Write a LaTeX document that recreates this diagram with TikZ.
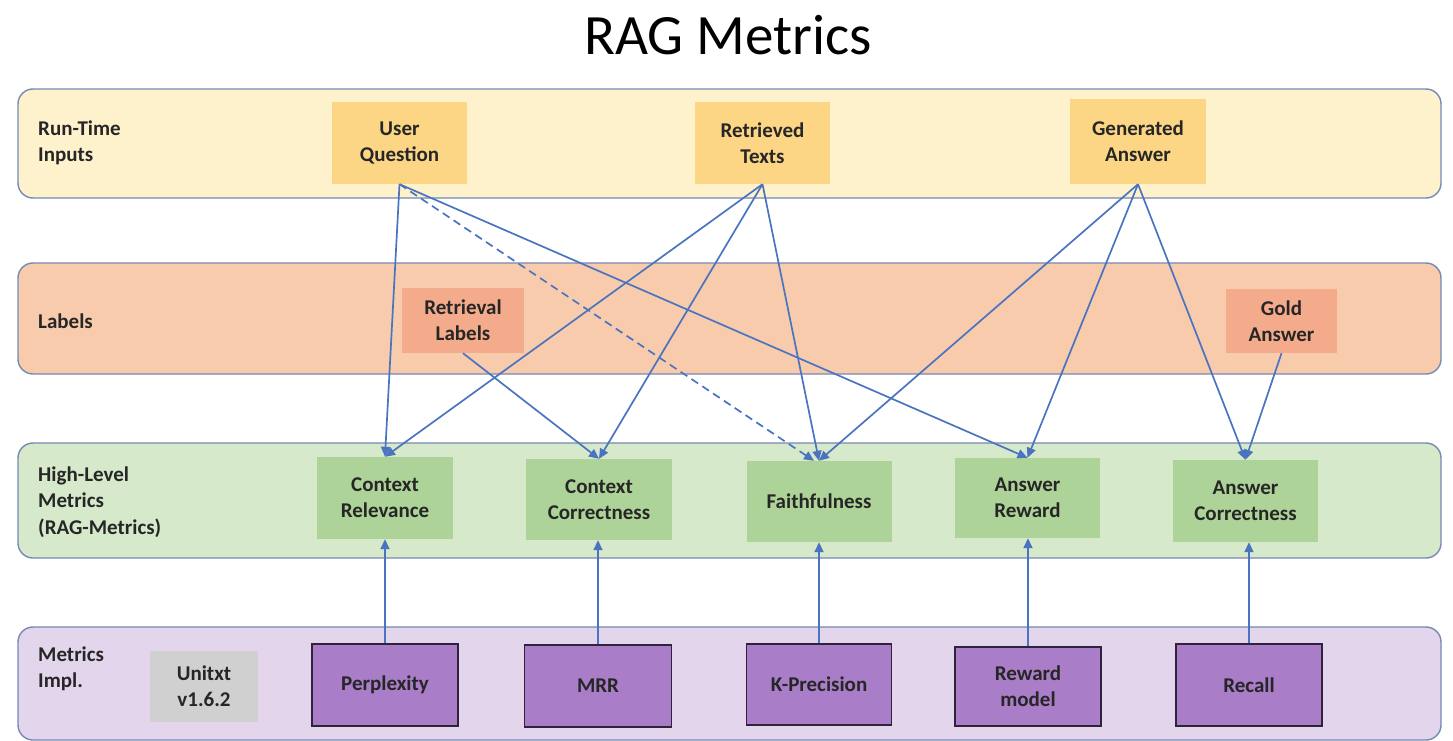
\documentclass[tikz,border=0pt]{standalone}
\usepackage{fontspec}
\setmainfont{Carlito}
\usetikzlibrary{arrows.meta}

\definecolor{bandline}{HTML}{7489B4}
\definecolor{inbg}{HTML}{FEF2CD}
\definecolor{inbox}{HTML}{FCD585}
\definecolor{labbg}{HTML}{F8CBAD}
\definecolor{labbox}{HTML}{F4AB8B}
\definecolor{hlbg}{HTML}{D6E9CA}
\definecolor{hlbox}{HTML}{ADD398}
\definecolor{impbg}{HTML}{E3D5EC}
\definecolor{impbox}{HTML}{A97DC8}
\definecolor{impline}{HTML}{2E2338}
\definecolor{verbox}{HTML}{D0D0D0}
\definecolor{link}{HTML}{4A74C0}
\definecolor{ink}{HTML}{262626}

\tikzset{
  band/.style={draw=bandline, line width=1.4pt, rounded corners=15pt, inner sep=0pt},
  bandtext/.style={anchor=west, align=left, text=ink, inner sep=0pt,
    font=\fontsize{21}{26.5}\selectfont\bfseries},
  boxbase/.style={align=center, inner sep=0pt, text=ink,
    font=\fontsize{21}{26}\selectfont\bfseries},
  inputbox/.style={boxbase, fill=inbox},
  labelbox/.style={boxbase, fill=labbox},
  hlbox/.style={boxbase, fill=hlbox},
  implbox/.style={boxbase, fill=impbox, draw=impline, line width=1.6pt},
  verbox/.style={boxbase, fill=verbox},
  flow/.style={draw=link, line width=1.7pt,
    -{Triangle[length=10pt,width=9pt]}},
}

\begin{document}
\begin{tikzpicture}[x=1pt, y=-1pt]
\useasboundingbox (0,0) rectangle (1453,741);

% title
\node (title) [font=\fontsize{57}{60}\selectfont, text=black, inner sep=0pt]
  at (728,35) {RAG Metrics};

% horizontal bands
\node (bandIn)  [band, fill=inbg,  minimum width=1423pt, minimum height=109pt] at (729.5,143.5) {};
\node (bandLab) [band, fill=labbg, minimum width=1423pt, minimum height=111pt] at (729.5,318.5) {};
\node (bandHL)  [band, fill=hlbg,  minimum width=1423pt, minimum height=115pt] at (729.5,500.5) {};
\node (bandImp) [band, fill=impbg, minimum width=1423pt, minimum height=113pt] at (729.5,683.5) {};

% band captions
\node (capIn)  [bandtext] at (38,143) {Run-Time\\Inputs};
\node (capLab) [bandtext] at (38,321) {Labels};
\node (capHL)  [bandtext] at (38,502) {High-Level\\Metrics\\(RAG-Metrics)};
\node (capImp) [bandtext] at (38,669) {Metrics\\Impl.};

% run-time inputs
\node (uq) [inputbox, minimum width=135pt, minimum height=82pt] at (399.5,143) {User\\Question};
\node (rt) [inputbox, minimum width=135pt, minimum height=82pt] at (762.5,143) {Retrieved\\Texts};
\node (ga) [inputbox, minimum width=136pt, minimum height=85pt] at (1138,141.5) {Generated\\Answer};

% labels
\node (rl) [labelbox, minimum width=122pt, minimum height=65pt] at (463,320.5) {Retrieval\\Labels};
\node (gold) [labelbox, minimum width=111pt, minimum height=64pt] at (1281.5,321) {Gold\\Answer};

% high-level metrics
\node (crel) [hlbox, minimum width=136pt, minimum height=82pt] at (385,498) {Context\\Relevance};
\node (ccor) [hlbox, minimum width=146pt, minimum height=81pt] at (599,499.5) {Context\\Correctness};
\node (faith) [hlbox, minimum width=145pt, minimum height=81pt] at (819,501.5) {Faithfulness};
\node (arew) [hlbox, minimum width=145pt, minimum height=80pt] at (1027.5,498) {Answer\\Reward};
\node (acor) [hlbox, minimum width=145pt, minimum height=82pt] at (1245.5,501) {Answer\\Correctness};

% metric implementations
\node (unitxt) [verbox, minimum width=108pt, minimum height=71pt] at (204,686.5) {Unitxt\\v1.6.2};
\node (perp) [implbox, minimum width=146pt, minimum height=82pt] at (385,685) {Perplexity};
\node (mrr) [implbox, minimum width=147pt, minimum height=82pt] at (598,686) {MRR};
\node (kprec) [implbox, minimum width=145pt, minimum height=81pt] at (819,684.5) {K-Precision};
\node (rmod) [implbox, minimum width=146pt, minimum height=79pt] at (1028,686.5) {Reward\\model};
\node (recall) [implbox, minimum width=146pt, minimum height=82pt] at (1249,685) {Recall};

% inputs and labels feeding the metrics
\draw[flow] (uq.south) -- (crel.north);
\draw[flow] (uq.south) -- (arew.north);
\draw[flow, dash pattern=on 8pt off 5pt] (uq.south) -- ([xshift=-5pt]faith.north);
\draw[flow] (rt.south) -- (crel.north);
\draw[flow] (rt.south) -- (ccor.north);
\draw[flow] (rt.south) -- (faith.north);
\draw[flow] (ga.south) -- (faith.north);
\draw[flow] (ga.south) -- (arew.north);
\draw[flow] (ga.south) -- (acor.north);
\draw[flow] (rl.south) -- (ccor.north);
\draw[flow] (gold.south) -- (acor.north);

% implementations behind each metric
\draw[flow] (perp.north) -- (perp.north |- crel.south);
\draw[flow] (mrr.north) -- (mrr.north |- ccor.south);
\draw[flow] (kprec.north) -- (kprec.north |- faith.south);
\draw[flow] (rmod.north) -- (rmod.north |- arew.south);
\draw[flow] (recall.north) -- (recall.north |- acor.south);
\end{tikzpicture}
\end{document}
